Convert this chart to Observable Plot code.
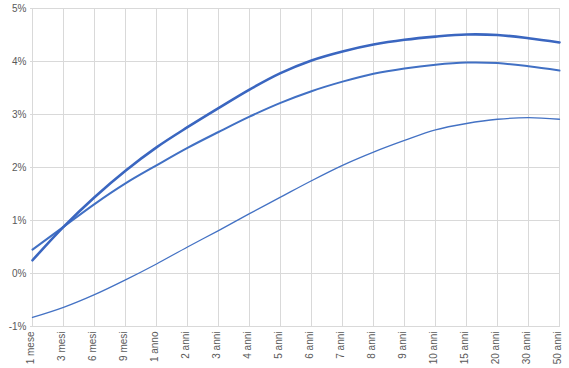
<!DOCTYPE html>
<html>
<head>
<meta charset="utf-8">
<script src="https://cdn.jsdelivr.net/npm/d3@7"></script>
<script src="https://cdn.jsdelivr.net/npm/@observablehq/plot@0.6"></script>
<style>
  html, body { margin: 0; padding: 0; background: #fff; }
  #chart svg { display: block; }
</style>
</head>
<body>
<div id="chart"></div>
<script>
const categories = ["1 mese","3 mesi","6 mesi","9 mesi","1 anno","2 anni","3 anni","4 anni","5 anni","6 anni","7 anni","8 anni","9 anni","10 anni","15 anni","20 anni","30 anni","50 anni"];
const serieA = [0.25,0.88,1.44,1.94,2.38,2.76,3.12,3.47,3.78,4.02,4.19,4.32,4.41,4.47,4.51,4.50,4.44,4.36];
const serieB = [0.45,0.88,1.31,1.70,2.04,2.37,2.67,2.96,3.22,3.44,3.62,3.77,3.87,3.94,3.98,3.97,3.91,3.83];
const serieC = [-0.83,-0.64,-0.40,-0.12,0.18,0.50,0.81,1.13,1.44,1.75,2.04,2.29,2.51,2.71,2.83,2.91,2.94,2.91];
const yTicks = [-1,0,1,2,3,4,5];

const rows = (vals) => categories.map((c, i) => ({cat: c, v: vals[i]}));

const chart = Plot.plot({
  width: 569,
  height: 368,
  marginLeft: 30,
  marginRight: 9,
  marginTop: 8,
  marginBottom: 42,
  style: {fontFamily: "Liberation Sans, Arial, sans-serif", fontSize: "10px", color: "#595959", background: "#fff"},
  x: {type: "point", domain: categories, padding: 0},
  y: {domain: [-1, 5], ticks: yTicks},
  marks: [
    Plot.gridX(categories, {stroke: "#d9d9d9", strokeOpacity: 1}),
    Plot.gridY(yTicks, {stroke: "#d9d9d9", strokeOpacity: 1}),
    Plot.axisY(yTicks, {tickSize: 0, tickPadding: 4, tickFormat: d => d + "%", label: null, fill: "#595959"}),
    Plot.axisX({tickSize: 0, tickPadding: 5, tickRotate: -90, dx: -2, label: null, fill: "#595959"}),
    Plot.line(rows(serieC), {x: "cat", y: "v", stroke: "#4472C4", strokeWidth: 1.3, curve: "catmull-rom"}),
    Plot.line(rows(serieB), {x: "cat", y: "v", stroke: "#4170C4", strokeWidth: 2, curve: "catmull-rom"}),
    Plot.line(rows(serieA), {x: "cat", y: "v", stroke: "#3A66C0", strokeWidth: 2.6, curve: "catmull-rom"})
  ]
});
document.getElementById("chart").appendChild(chart);
</script>
</body>
</html>
